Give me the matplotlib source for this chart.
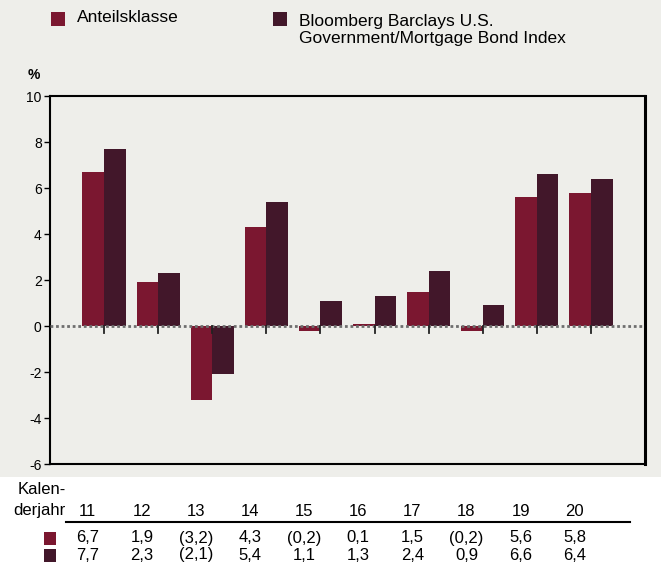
import numpy as np
import matplotlib
matplotlib.use('Agg')
import matplotlib.pyplot as plt
from matplotlib import font_manager
from matplotlib.patches import Rectangle

have = {f.name for f in font_manager.fontManager.ttflist}
narrow = [n for n in ['Liberation Sans Narrow'] if n in have]
plt.rcParams['font.family'] = narrow + ['Liberation Sans', 'DejaVu Sans']
plt.rcParams['axes.unicode_minus'] = False
scale = 1.2 if narrow else 1.0

years = ['11', '12', '13', '14', '15', '16', '17', '18', '19', '20']
fund = [6.7, 1.9, -3.2, 4.3, -0.2, 0.1, 1.5, -0.2, 5.6, 5.8]
index = [7.7, 2.3, -2.1, 5.4, 1.1, 1.3, 2.4, 0.9, 6.6, 6.4]
fund_labels = ['6,7', '1,9', '(3,2)', '4,3', '(0,2)', '0,1', '1,5', '(0,2)', '5,6', '5,8']
index_labels = ['7,7', '2,3', '(2,1)', '5,4', '1,1', '1,3', '2,4', '0,9', '6,6', '6,4']
legend_names = ['Anteilsklasse', 'Bloomberg Barclays U.S.\nGovernment/Mortgage Bond Index']

c_fund = '#7B1730'
c_index = '#42172A'
bg = '#EEEEEA'
W, H = 661, 563

fig = plt.figure(figsize=(W / 100, H / 100), dpi=100)
fig.patch.set_facecolor(bg)
# white strip under the chart for the data table
fig.patches.append(Rectangle((0, 0), 1, 86 / H, transform=fig.transFigure,
                             facecolor='white', edgecolor='none', zorder=0))

ax = fig.add_axes([50 / W, 1 - 464 / H, 595 / W, 368 / H])
ax.set_facecolor(bg)

x = np.arange(len(years))
w = 0.4
ax.bar(x - w / 2, fund, w, color=c_fund, zorder=2)
ax.bar(x + w / 2, index, w, color=c_index, zorder=2)
ax.axhline(0, color='#6E6E6E', lw=2, ls=(0, (1, 1)), zorder=3)

ax.set_xlim(-1, 10)
ax.set_ylim(-6, 10)
ax.set_yticks(range(-6, 11, 2))
ax.tick_params(axis='y', direction='out', length=4, width=1, labelsize=10 * scale, pad=2)
ax.set_xticks([])
for xi in x:
    ax.plot([xi, xi], [0, -0.3], color='#222222', lw=1.3, zorder=3)
for s in ax.spines.values():
    s.set_linewidth(1.5)
ax.spines['right'].set_linewidth(2.2)

fig.text(28 / W, 1 - 75 / H, '%', fontsize=10, fontweight='bold', ha='left', va='center')

# legend
fig.patches.append(Rectangle((51 / W, 1 - 26 / H), 14 / W, 14 / H, transform=fig.transFigure,
                             facecolor=c_fund, edgecolor='none'))
fig.text(77 / W, 1 - 18 / H, legend_names[0], fontsize=12.5 * scale, va='center')
fig.patches.append(Rectangle((273 / W, 1 - 26 / H), 14 / W, 14 / H, transform=fig.transFigure,
                             facecolor=c_index, edgecolor='none'))
fig.text(299 / W, 1 - 30 / H, legend_names[1], fontsize=12.5 * scale, va='center', linespacing=1.2)

# data table, columns sit a bit left of the bar pairs
def col_x(i):
    return (50 + (i + 1 - 0.3) * 595 / 11) / W

fs = 12 * scale
fig.text(66 / W, 1 - 490 / H, 'Kalen-', fontsize=fs, ha='right', va='center')
fig.text(66 / W, 1 - 511 / H, 'derjahr', fontsize=fs, ha='right', va='center')
for i in range(len(years)):
    fig.text(col_x(i), 1 - 511 / H, years[i], fontsize=fs, ha='center', va='center')
    fig.text(col_x(i), 1 - 538 / H, fund_labels[i], fontsize=fs, ha='center', va='center')
    fig.text(col_x(i), 1 - 555 / H, index_labels[i], fontsize=fs, ha='center', va='center')
fig.add_artist(plt.Line2D([66 / W, 630 / W], [1 - 522 / H] * 2, color='black', lw=1.5))
fig.patches.append(Rectangle((44 / W, 1 - 545 / H), 12 / W, 13 / H, transform=fig.transFigure,
                             facecolor=c_fund, edgecolor='none'))
fig.patches.append(Rectangle((44 / W, 1 - 562 / H), 12 / W, 13 / H, transform=fig.transFigure,
                             facecolor=c_index, edgecolor='none'))

fig.savefig('out.png', dpi=100, facecolor=fig.get_facecolor())
